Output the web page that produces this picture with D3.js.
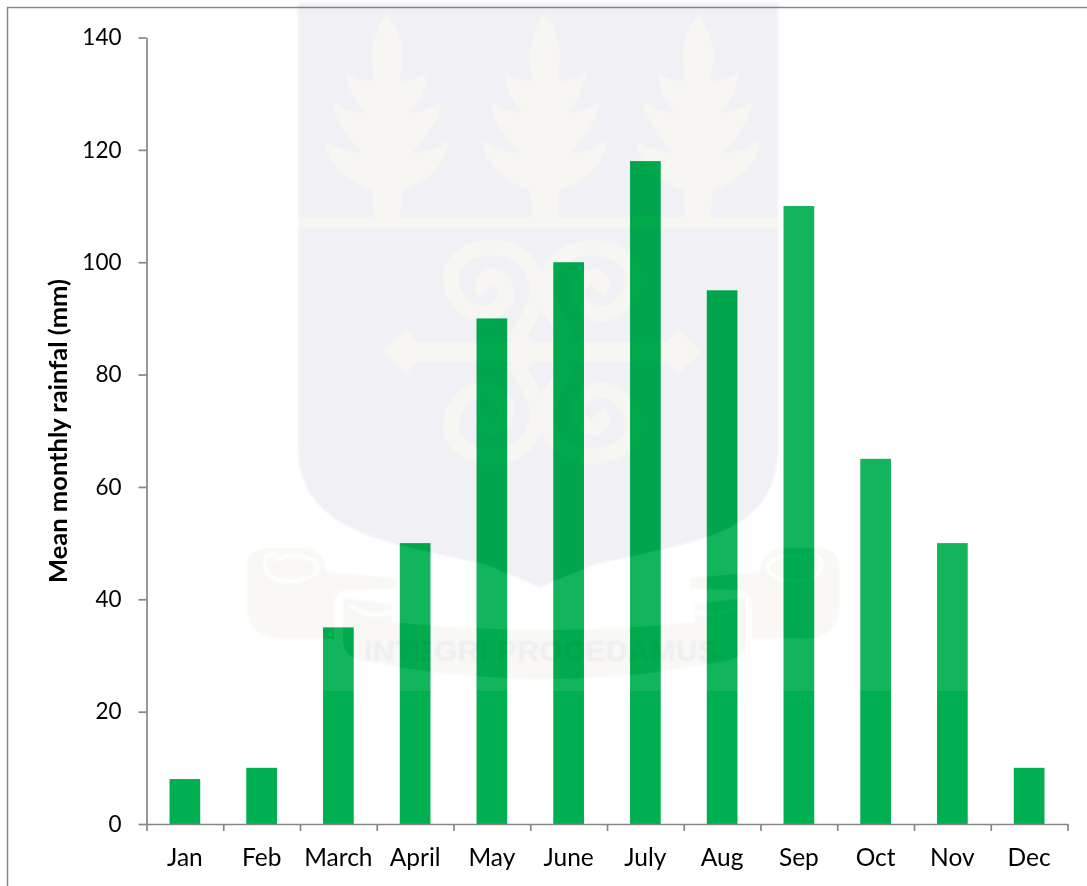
<!DOCTYPE html>
<html>
<head>
<meta charset="utf-8">
<script src="https://cdn.jsdelivr.net/npm/d3@7/dist/d3.min.js"></script>
<style>
html,body{margin:0;padding:0;background:#fff;overflow:hidden}
svg{display:block;font-family:Lato,"Open Sans",sans-serif}
.emblem{mix-blend-mode:multiply}
</style>
</head>
<body>
<svg id="chart" width="1087" height="886"></svg>
<script>
const months = ["Jan","Feb","March","April","May","June","July","Aug","Sep","Oct","Nov","Dec"];
const rainfall = [8,10,35,50,90,100,118,95,110,65,50,10];
const yTicks = [0,20,40,60,80,100,120,140];
const yAxisTitle = "Mean monthly rainfal (mm)";
const mottoText = "INTEGRI PROCEDAMUS";

const svg = d3.select("#chart");
const left = 146.5, right = 1067.5, top_ = 37.5, bottom = 824;
const axisColor = "#868686";

const x = d3.scaleBand().domain(months).range([left, right]).paddingInner(0.6).paddingOuter(0.3);
const xEdge = d3.scaleLinear().domain([0, months.length]).range([left, right]);
const y = d3.scaleLinear().domain([0, 140]).range([bottom, top_]);

// watermark outlines
const shieldPath = "M298 3 L778 3 L778 450 C776 490 760 515 720 532 C680 548 630 556 596 564 L540 587 L484 564 C450 556 400 548 360 532 C320 515 300 490 298 450 Z";
const tree = "M0 13 C10 28 17 45 15 62 L13 81 Q28 81 41 72 C39 88 33 102 22 113 Q42 112 55 100 C53 118 42 135 25 153 Q46 152 62 140 C60 165 40 182 15 190 L13 217 L-13 217 L-15 190 C-40 182 -60 165 -62 140 Q-46 152 -25 153 C-42 135 -53 118 -55 100 Q-42 112 -22 113 C-33 102 -39 88 -41 72 Q-28 81 -13 81 L-15 62 C-17 45 -10 28 0 13 Z";
const spiral = "M486 292 C476 280 492 268 504 284 C514 302 490 322 470 310 C442 294 442 252 486 248 C526 244 548 278 532 312 L518 336 L532 352";
const cross = "M382 352 L406 328 L418 342 L666 342 L678 328 L702 352 L678 374 L666 362 L418 362 L406 374 Z";
const scrollPath = "M264 548 L306 548 Q326 552 326 572 L396 578 L396 589 L345 590 Q334 592 334 606 L334 639 L272 638 Q248 632 247 610 L247 566 Q248 551 264 548 Z";
const bandPath = "M343 598 L392 604 L392 622 Q545 638 695 622 L695 604 L746 598 L746 642 Q745 656 730 660 Q545 698 360 660 Q344 656 343 642 Z";

const defs = svg.append("defs");
defs.append("filter").attr("id","soft").attr("x","-5%").attr("y","-5%").attr("width","110%").attr("height","110%")
  .append("feGaussianBlur").attr("stdDeviation",0.9);
const mask = defs.append("mask").attr("id","veilMask").attr("maskUnits","userSpaceOnUse")
  .attr("x",0).attr("y",0).attr("width",1087).attr("height",886);
mask.append("rect").attr("x",0).attr("y",0).attr("width",1087).attr("height",691).attr("fill","#fff");
mask.append("path").attr("d",shieldPath).attr("fill","#000");
mask.append("path").attr("d",bandPath).attr("fill","#000");
mask.append("path").attr("d",scrollPath).attr("fill","#000");
mask.append("path").attr("d",scrollPath).attr("fill","#000").attr("transform","matrix(-1 0 0 1 1086 0)");

// bars
svg.append("g").selectAll("rect").data(rainfall).join("rect")
  .attr("x", (d,i) => x(months[i]))
  .attr("y", d => y(d))
  .attr("width", x.bandwidth())
  .attr("height", d => y(0) - y(d))
  .attr("fill", "#00b050");

// faint watermark printed over the page
svg.append("rect").attr("x",0).attr("y",0).attr("width",1087).attr("height",691)
  .attr("fill","#fff").attr("fill-opacity",0.07).attr("mask","url(#veilMask)");

const wm = svg.append("g").attr("class","emblem").append("g").attr("filter","url(#soft)");
const cream = "#f7f6f2", shield = "#f0f0f5", ribbon = "#f9f8f5";

wm.append("path").attr("fill",shield).attr("d",shieldPath);
[387,545,698].forEach(cx => wm.append("path").attr("fill",cream).attr("transform",`translate(${cx},0)`).attr("d",tree));
wm.append("rect").attr("x",298).attr("y",217).attr("width",480).attr("height",11).attr("fill",cream);

// central ornament
[[1,0,0,1,0,0],[-1,0,0,1,1084,0],[1,0,0,-1,0,704],[-1,0,0,-1,1084,704]].forEach(m =>
  wm.append("path").attr("d",spiral).attr("fill","none").attr("stroke",cream).attr("stroke-width",16)
    .attr("transform",`matrix(${m.join(" ")})`));
wm.append("path").attr("fill",cream).attr("d",cross);

// ribbon
[[1,0,0,1,0,0],[-1,0,0,1,1086,0]].forEach(m => {
  const g = wm.append("g").attr("transform",`matrix(${m.join(" ")})`);
  g.append("path").attr("d",scrollPath).attr("fill",ribbon);
  g.append("path").attr("d","M276 562 C282 552 312 554 318 566 C322 580 280 588 268 574 C260 562 266 554 278 553")
    .attr("fill","none").attr("stroke","#fff").attr("stroke-width",3.5);
});
wm.append("path").attr("fill",ribbon).attr("d",bandPath);
wm.append("path").attr("d","M350 606 Q370 620 392 612").attr("fill","none").attr("stroke","#fff").attr("stroke-width",3.5);
wm.append("path").attr("d","M738 606 Q718 620 695 612").attr("fill","none").attr("stroke","#fff").attr("stroke-width",3.5);
wm.append("text").text(mottoText).attr("x",364).attr("y",661)
  .attr("textLength",354).attr("lengthAdjust","spacingAndGlyphs")
  .attr("font-family","Liberation Sans").attr("font-weight","bold").attr("font-size",30)
  .attr("fill","#efeef0");

// outer chart frame
svg.append("path").attr("d","M7.5 886 L7.5 7.5 L1087 7.5").attr("fill","none").attr("stroke",axisColor).attr("stroke-width",1.5);

// axes
const gy = svg.append("g").attr("transform",`translate(${left},0)`)
  .call(d3.axisLeft(y).tickValues(yTicks).tickSize(8).tickPadding(17).tickSizeOuter(0));
const gxTicks = svg.append("g").attr("transform",`translate(0,${bottom})`)
  .call(d3.axisBottom(xEdge).tickValues(d3.range(months.length+1)).tickFormat("").tickSize(7).tickSizeOuter(0));
const gxLabels = svg.append("g").attr("transform",`translate(0,${bottom})`)
  .call(d3.axisBottom(x).tickSize(0).tickPadding(25));
gxLabels.select(".domain").remove();
[gy,gxTicks].forEach(g => {
  g.selectAll("line").attr("stroke",axisColor).attr("stroke-width",1.7);
  g.selectAll(".domain").attr("stroke",axisColor).attr("stroke-width",1.7);
});
gy.selectAll("text").attr("font-family","Lato").attr("font-size",22.5).attr("fill","#000");
gxLabels.selectAll("text").attr("font-family","Lato").attr("font-size",24.5).attr("fill","#000");

svg.append("text").text(yAxisTitle)
  .attr("transform","translate(67,431) rotate(-90)")
  .attr("text-anchor","middle").attr("font-family","Lato").attr("font-weight","bold")
  .attr("font-size",25.5).attr("fill","#000");
</script>
</body>
</html>
